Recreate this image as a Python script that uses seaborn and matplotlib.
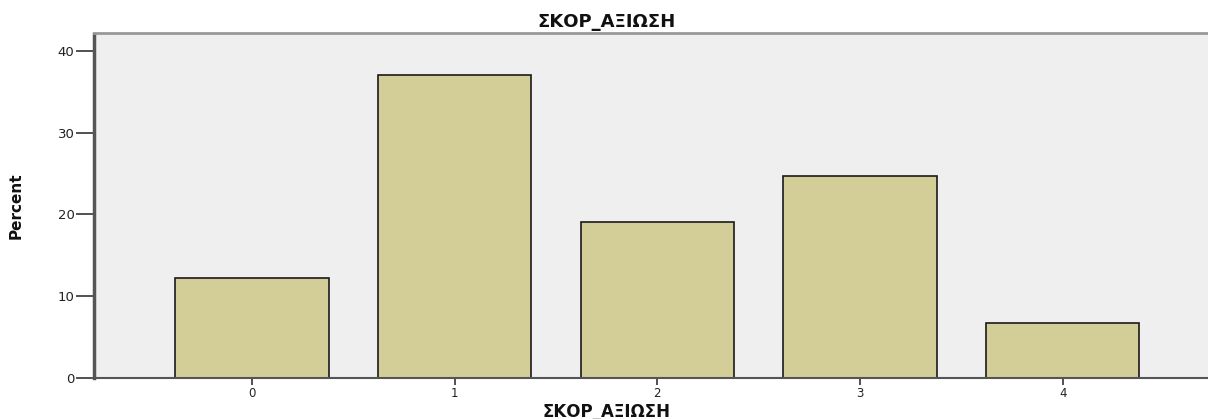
import matplotlib
matplotlib.use("Agg")
import matplotlib.pyplot as plt
import seaborn as sns
import pandas as pd

categories = ["0", "1", "2", "3", "4"]
percent = [12.3, 37.0, 19.1, 24.7, 6.7]
yticks = [0, 10, 20, 30, 40]
title = "ΣΚΟΡ_ΑΞΙΩΣΗ"
xlabel = "ΣΚΟΡ_ΑΞΙΩΣΗ"
ylabel = "Percent"

sns.set_style("white")
plt.rcParams['font.family'] = ['DejaVu Sans']

df = pd.DataFrame({"cat": categories, "pct": percent})

fig = plt.figure(figsize=(12.08, 4.19), dpi=100)
ax = fig.add_axes([94/1208, 1 - 378.3/419, 1 - 94/1208 + 0.002, (378.3 - 33.5)/419])
ax.set_facecolor("#efefef")

sns.barplot(data=df, x="cat", y="pct", order=categories, color="#d3ce97",
            width=0.756, edgecolor="#1a1a1a", linewidth=1.2, saturation=1, ax=ax)

ax.set_xlim(-0.779, 4.729)
ax.set_ylim(0, 42.1)
ax.set_yticks(yticks)
ax.set_yticklabels([str(t) for t in yticks], fontsize=9.5, color="#222222")
ax.tick_params(axis="y", direction="out", length=13, width=1.2, color="#333333", pad=1, left=True)
ax.tick_params(axis="x", direction="out", length=5, width=1.2, color="#333333", pad=1, bottom=True, labelsize=8.5, labelcolor="#222222")

ax.spines["left"].set_color("#555555")
ax.spines["left"].set_linewidth(2.5)
ax.spines["bottom"].set_color("#555555")
ax.spines["bottom"].set_linewidth(1.5)
ax.spines["top"].set_color("#999999")
ax.spines["top"].set_linewidth(2)
ax.spines["right"].set_visible(False)

cx = (605 - 94) / (1208 - 94)
ax.set_title(title, fontsize=13, fontweight="bold", color="#111111", pad=5, x=cx)
ax.set_xlabel(xlabel, fontsize=12, fontweight="bold", color="#111111")
ax.xaxis.set_label_coords(cx, -0.072)
ax.set_ylabel(ylabel, fontsize=11, fontweight="bold", color="#111111")
ax.yaxis.set_label_coords(-70/1114, 0.5)

fig.savefig("out.png", dpi=100, facecolor="white")
